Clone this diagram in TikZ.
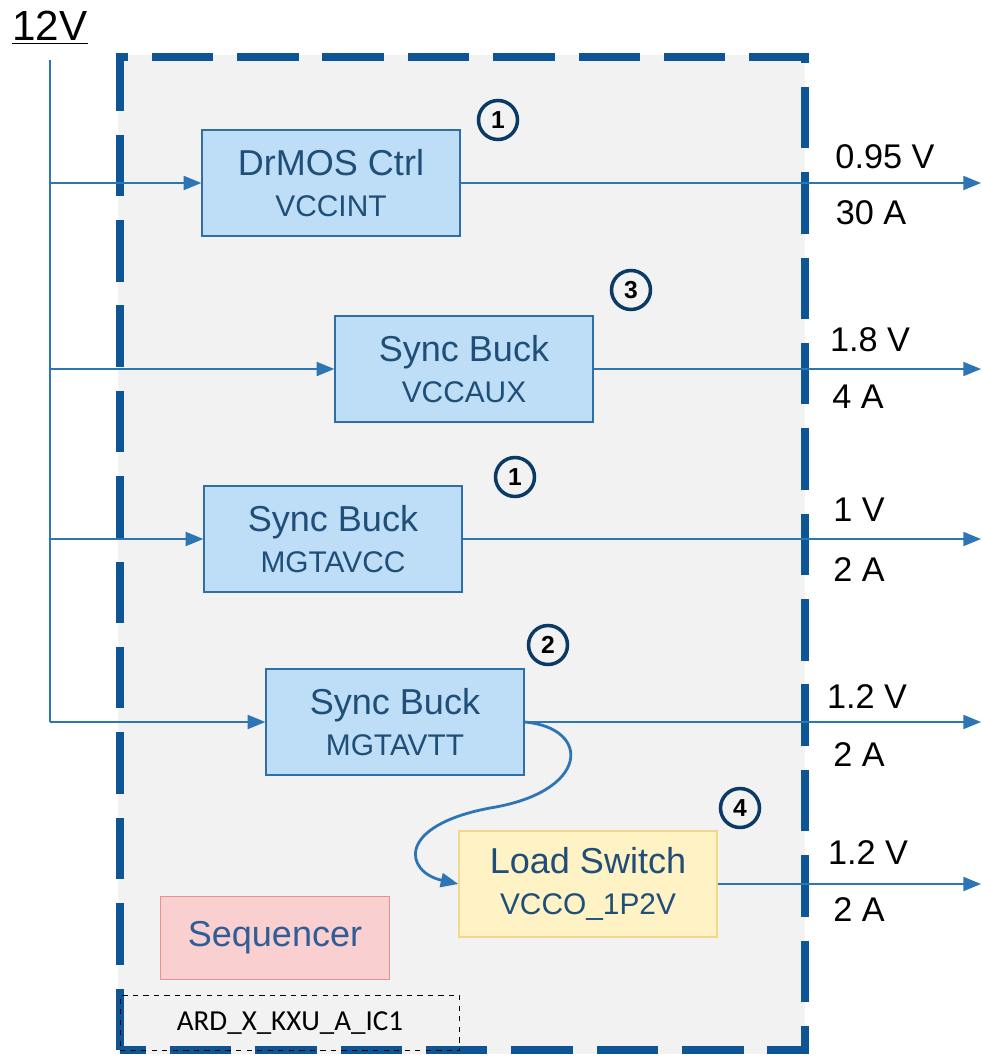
\documentclass[tikz,border=0pt]{standalone}
\usepackage{fontspec}
\setmainfont{Liberation Sans}
\newfontfamily\icfont{Carlito}
\usepackage{xcolor}
\usetikzlibrary{arrows.meta,positioning,calc}
\definecolor{wire}{HTML}{2E75B6}
\definecolor{frame}{HTML}{0E5596}
\definecolor{bgray}{HTML}{F2F2F2}
\definecolor{boxfill}{HTML}{BDDEF6}
\definecolor{boxline}{HTML}{2F6FA8}
\definecolor{boxtext}{HTML}{1F4E79}
\definecolor{swfill}{HTML}{FFF2C5}
\definecolor{swline}{HTML}{F3D88A}
\definecolor{seqfill}{HTML}{F9CFCF}
\definecolor{seqline}{HTML}{EB8F8F}
\definecolor{seqtext}{HTML}{2E5E9A}
\definecolor{badge}{HTML}{0B3A66}
\newcommand{\subtxt}{\fontsize{17}{18}\selectfont}

\begin{document}
\begin{tikzpicture}[
    x=0.02cm, y=-0.02cm,
    every node/.style={align=center},
    reg/.style={draw=#1line, fill=#1fill, line width=1.1pt, text=boxtext,
                minimum width=5.15cm, minimum height=2.12cm,
                font=\fontsize{20.5}{22}\selectfont},
    reg/.default=box,
    arr/.style={-{Triangle[length=10pt, width=8pt]}, wire, line width=0.85pt},
    curvearr/.style={-{Triangle[length=10pt, width=8pt]}, wire, line width=1.6pt},
    num/.style={circle, draw=badge, line width=2pt, minimum size=0.78cm,
                inner sep=0pt, font=\fontsize{14}{14}\selectfont\bfseries},
    rail/.style={font=\fontsize{19.5}{21}\selectfont},
  ]
  \useasboundingbox (0,0) rectangle (981,1058);

  % board outline
  \fill[bgray] (118,55) rectangle (805,1054);
  \draw[frame, line width=4.5pt, dash pattern=on 35pt off 13.6pt]
    (120,1050) -- (120,57) -- (805,57) -- (805,1050) -- cycle;
  \node[draw, dashed, line width=0.6pt, minimum width=6.8cm, minimum height=1.1cm,
        font=\icfont\fontsize{16.5}{17}\selectfont] (ic) at (290,1023) {ARD\_X\_KXU\_A\_IC1};

  % 12V input bus
  \node[font=\fontsize{24}{26}\selectfont] (vin) at (50,28) {\underline{12V}};
  \coordinate (vtop) at (50,60);
  \coordinate (vbot) at (50,722);
  \draw[wire, line width=0.85pt] (vtop) -- (vbot);

  % regulators
  \node[reg] (drmos)  at (331,183) {DrMOS Ctrl\\[1pt]{\subtxt VCCINT}};
  \node[reg] (vccaux) at (464,369) {Sync Buck\\[1pt]{\subtxt VCCAUX}};
  \node[reg] (mgtvcc) at (333,539) {Sync Buck\\[1pt]{\subtxt MGTAVCC}};
  \node[reg] (mgtvtt) at (395,722) {Sync Buck\\[1pt]{\subtxt MGTAVTT}};
  \node[reg=sw] (lsw) at (588,884) {Load Switch\\[1pt]{\subtxt VCCO\_1P2V}};
  \node[reg=seq, minimum width=4.58cm, minimum height=1.66cm,
        text=seqtext] (seq) at (275,938) {Sequencer};

  % sequence numbers
  \node[num] (n1a) at (498,120) {1};
  \node[num] (n3)  at (631,290) {3};
  \node[num] (n1b) at (515,477) {1};
  \node[num] (n2)  at (548,645) {2};
  \node[num] (n4)  at (740,808) {4};

  % inputs
  \foreach \reg/\yy in {drmos/183, vccaux/369, mgtvcc/539, mgtvtt/722}{
    \coordinate (in-\reg) at (50,\yy);
    \draw[arr] (in-\reg) -- (\reg);
  }

  % outputs
  \foreach \reg/\yy in {drmos/183, vccaux/369, mgtvcc/539, mgtvtt/722, lsw/884}{
    \coordinate (out-\reg) at (981,\yy);
    \draw[arr] (\reg) -- (out-\reg);
  }
  \draw[curvearr] (mgtvtt.east) .. controls (592,728) and (590,792) .. (490,808)
              .. controls (395,826) and (405,872) .. (lsw.west);

  % rail labels
  \node[rail] (v1) at (885,157) {0.95 V};
  \node[rail] (a1) at (871,213) {30 A};
  \node[rail] (v2) at (870,340) {1.8 V};
  \node[rail] (a2) at (858,397) {4 A};
  \node[rail] (v3) at (859,510) {1 V};
  \node[rail] (a3) at (859,570) {2 A};
  \node[rail] (v4) at (867,697) {1.2 V};
  \node[rail] (a4) at (859,755) {2 A};
  \node[rail] (v5) at (868,853) {1.2 V};
  \node[rail] (a5) at (859,910) {2 A};
\end{tikzpicture}
\end{document}
